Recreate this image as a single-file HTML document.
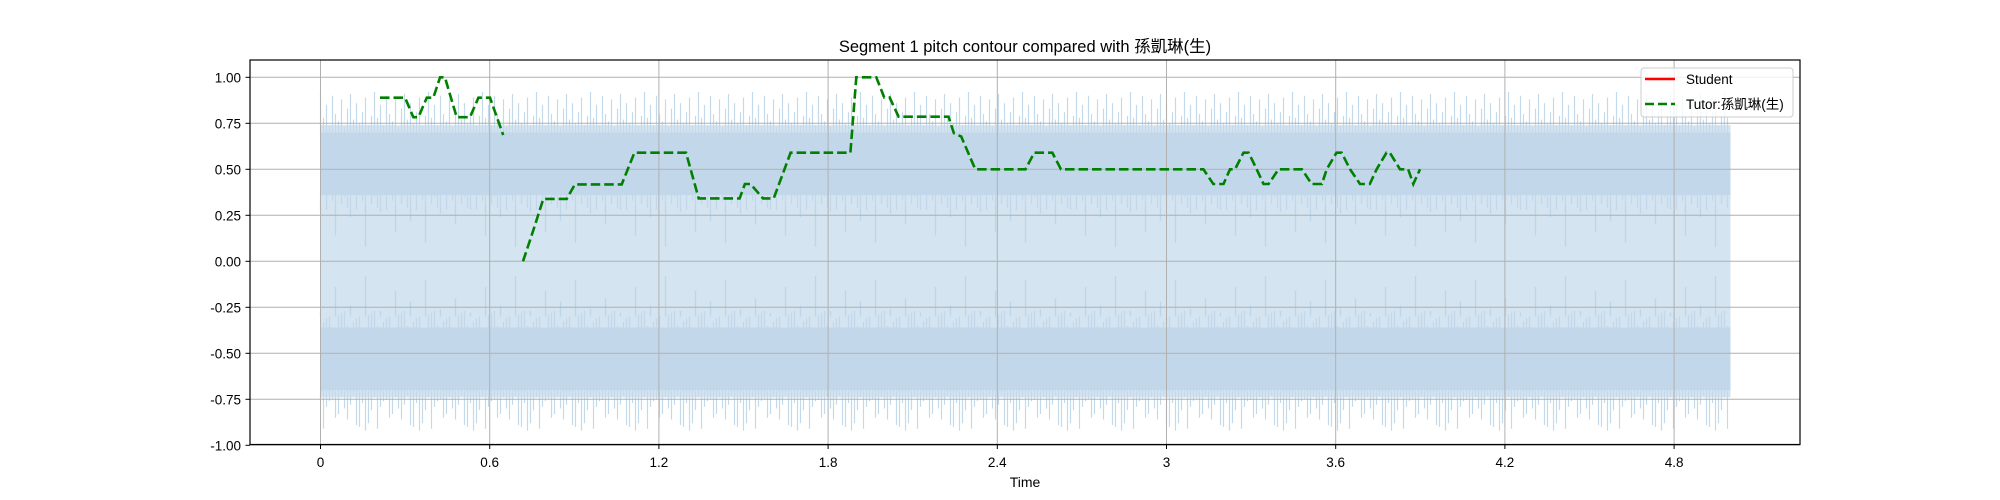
<!DOCTYPE html>
<html><head><meta charset="utf-8"><style>
html,body{margin:0;padding:0;background:#fff;}
svg{display:block;font-family:"Liberation Sans","Noto Sans CJK SC",sans-serif;}
</style></head><body>
<svg id="chart" width="2000" height="500" viewBox="0 0 2000 500">
<text x="1025" y="52" text-anchor="middle" font-size="16.5" fill="#000">Segment 1 pitch contour compared with 孫凱琳(生)</text>
<g id="wave"></g>
<g id="grid"></g>
<g id="series"></g>
<rect x="250" y="60" width="1550" height="384.5" fill="none" stroke="#000" stroke-width="1.2"/>
<g id="axes"></g>
<text x="1025" y="487" text-anchor="middle" font-size="14">Time</text>
<g>
<rect x="1641" y="68" width="152" height="49" rx="3" fill="#fff" fill-opacity="0.8" stroke="#ccc"/>
<line x1="1645" y1="79" x2="1675" y2="79" stroke="red" stroke-width="2.5"/>
<text x="1686" y="84" font-size="13.5">Student</text>
<line x1="1645" y1="104" x2="1675" y2="104" stroke="#008000" stroke-width="2.5" stroke-dasharray="9,4"/>
<text x="1686" y="109" font-size="13.5">Tutor:孫凱琳(生)</text>
</g>
</svg>
<script>
const xTicks=[0,0.6,1.2,1.8,2.4,3,3.6,4.2,4.8];
const xTickLabels=["0","0.6","1.2","1.8","2.4","3","3.6","4.2","4.8"];
const yTicks=[1,0.75,0.5,0.25,0,-0.25,-0.5,-0.75,-1];
const yTickLabels=["1.00","0.75","0.50","0.25","0.00","-0.25","-0.50","-0.75","-1.00"];
const tutorSeg1T=[0.211,0.300,0.329,0.347,0.377,0.400,0.424,0.441,0.483,0.530,0.560,0.601,0.648];
const tutorSeg1V=[0.889,0.889,0.783,0.783,0.889,0.889,1.0,1.0,0.783,0.783,0.889,0.889,0.686];
const tutorSeg2T=[0.718,0.755,0.790,0.873,0.902,1.068,1.113,1.296,1.341,1.486,1.505,1.525,1.569,1.607,1.667,1.879,1.900,1.971,1.999,2.018,2.050,2.227,2.246,2.272,2.322,2.500,2.531,2.595,2.626,3.131,3.166,3.202,3.225,3.243,3.273,3.291,3.320,3.344,3.362,3.397,3.480,3.515,3.551,3.568,3.603,3.621,3.651,3.686,3.721,3.745,3.780,3.792,3.828,3.857,3.875,3.899];
const tutorSeg2V=[0.0,0.17,0.339,0.339,0.418,0.418,0.59,0.59,0.342,0.342,0.42,0.42,0.342,0.342,0.59,0.59,1.0,1.0,0.891,0.891,0.786,0.786,0.696,0.678,0.5,0.5,0.59,0.59,0.5,0.5,0.42,0.42,0.5,0.5,0.59,0.59,0.5,0.42,0.42,0.5,0.5,0.42,0.42,0.5,0.59,0.59,0.5,0.42,0.42,0.5,0.59,0.59,0.5,0.5,0.42,0.5];
const waveStart=0, waveEnd=5.0;
const spikeHeights=[0.92,0.78,0.85,0.74,0.9,0.8,0.76,0.88,0.73,0.83,0.91,0.77,0.86,0.75,0.81,0.89,0.74,0.79];
const dipHeights=[0.28,0.14,0.24,0.08,0.27,0.16,0.22,0.1,0.26,0.2];
const bandInner=[0.3,0.36,0.28,0.4,0.33,0.27,0.38,0.31,0.35,0.29];

const X=t=>320.5+282*t;
const Y=v=>261.3-184*v;
const NS="http://www.w3.org/2000/svg";
function mk(tag,attrs,parent){const e=document.createElementNS(NS,tag);for(const k in attrs)e.setAttribute(k,attrs[k]);parent.appendChild(e);return e;}

const wave=document.getElementById('wave');
const x0=X(waveStart),x1=X(waveEnd);
let r;
r=mk('rect',{x:x0,y:Y(0.74),width:x1-x0,height:Y(-0.74)-Y(0.74),fill:'#d4e4f0'},wave);


r=mk('rect',{x:x0,y:Y(0.7),width:x1-x0,height:Y(0.36)-Y(0.7),fill:'#c2d8ea'},wave);


r=mk('rect',{x:x0,y:Y(-0.36),width:x1-x0,height:Y(-0.7)-Y(-0.36),fill:'#c2d8ea'},wave);


let d='',dd='',db='';
for(let i=0,x=x0;x<x1;i++,x+=3.0){
  const h=spikeHeights[i%spikeHeights.length];
  const h2=spikeHeights[(i*7+3)%spikeHeights.length];
  d+=`M${x.toFixed(1)} ${Y(0.7).toFixed(1)}V${Y(h).toFixed(1)}M${x.toFixed(1)} ${Y(-0.7).toFixed(1)}V${Y(-h2).toFixed(1)}`;
  const b=bandInner[i%bandInner.length];
  db+=`M${x.toFixed(1)} ${Y(0.36).toFixed(1)}V${Y(b).toFixed(1)}M${x.toFixed(1)} ${Y(-0.36).toFixed(1)}V${Y(-bandInner[(i*3+1)%bandInner.length]).toFixed(1)}`;
  if(i%5===0){const g=dipHeights[(i/5)%dipHeights.length];dd+=`M${x.toFixed(1)} ${Y(0.3).toFixed(1)}V${Y(g).toFixed(1)}M${x.toFixed(1)} ${Y(-0.3).toFixed(1)}V${Y(-g).toFixed(1)}`;}
}
r=mk('path',{d:d,stroke:'#c4d9ea',"stroke-width":1.2,fill:'none'},wave);


r=mk('path',{d:db,stroke:'#c2d8ea',"stroke-width":1.2,fill:'none'},wave);


r=mk('path',{d:dd,stroke:'#bed6e9',"stroke-width":1.3,fill:'none'},wave);



const grid=document.getElementById('grid'),axes=document.getElementById('axes');
xTicks.forEach((t,i)=>{
  let l=mk('line',{x1:X(t),x2:X(t),y1:60,y2:444.5,stroke:'#b0b0b0',"stroke-width":1},grid);
  
  
  l=mk('line',{x1:X(t),x2:X(t),y1:444.5,y2:449,stroke:'#000'},axes);
  
  
  const tx=mk('text',{x:X(t),y:467,"text-anchor":"middle","font-size":13.5},axes);
  tx.textContent=xTickLabels[i];
  
  
});
yTicks.forEach((v,i)=>{
  let l=mk('line',{x1:250,x2:1800,y1:Y(v),y2:Y(v),stroke:'#b0b0b0',"stroke-width":1},grid);
  
  
  l=mk('line',{x1:245.5,x2:250,y1:Y(v),y2:Y(v),stroke:'#000'},axes);
  
  
  const tx=mk('text',{x:241,y:Y(v)+5,"text-anchor":"end","font-size":13.5},axes);
  tx.textContent=yTickLabels[i];
  
  
});

const series=document.getElementById('series');
[[tutorSeg1T,tutorSeg1V],[tutorSeg2T,tutorSeg2V]].forEach(([ts,vs],k)=>{
  const pts=ts.map((t,i)=>X(t).toFixed(1)+','+Y(vs[i]).toFixed(1)).join(' ');
  const p=mk('polyline',{points:pts,fill:'none',stroke:'#008000',"stroke-width":2.6,"stroke-dasharray":"9.5,4"},series);
  
  
});
</script>
</body></html>
